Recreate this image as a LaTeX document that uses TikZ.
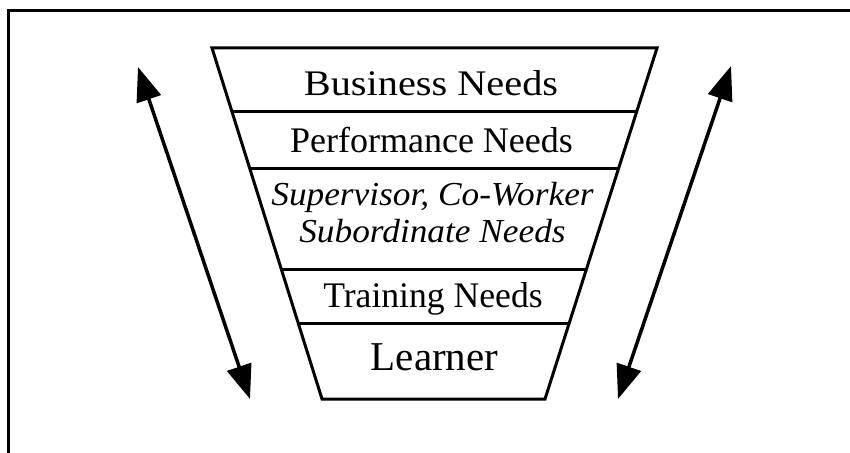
\documentclass[tikz,border=0pt]{standalone}
\usepackage{graphicx}
\usepackage{fontspec}
\setmainfont{Liberation Serif}
\usetikzlibrary{arrows.meta}
\begin{document}
\begin{tikzpicture}[x=1pt,y=-1pt,
  line/.style={line width=3pt},
  label/.style={anchor=base, inner sep=0pt},
  big/.style={label, font=\fontsize{41}{44}\selectfont},
  mid/.style={label, font=\fontsize{36}{39}\selectfont},
  ita/.style={label, font=\fontsize{35.3}{39}\selectfont\itshape},
  dbl/.style={line width=3.5pt,{Triangle[length=34pt,width=25pt]}-{Triangle[length=34pt,width=25pt]}}]
\useasboundingbox (0,0) rectangle (850,452);
% frame
\draw[line] (8,453) -- (8,11) -- (851,11);
% funnel
\coordinate (tl) at (212,48);
\coordinate (tr) at (657,48);
\coordinate (bl) at (322,399);
\coordinate (br) at (545,399);
\draw[line, line join=miter] (tl) -- (tr) -- (br) -- (bl) -- cycle;
\draw[line] (231.7,111) -- (636.9,111);
\draw[line] (249.6,168) -- (618.7,168);
\draw[line] (281.3,269) -- (586.5,269);
\draw[line] (298.2,323) -- (569.3,323);
% texts
\node[mid] (bus) at (431,95) {\scalebox{1.12}[1]{Business Needs}};
\node[mid] (perf) at (431.5,152) {Performance Needs};
\node[ita] (sup1) at (432.5,205) {\scalebox{1}[0.95]{Supervisor, Co-Worker}};
\node[ita] (sup2) at (432.5,242) {\scalebox{1}[0.95]{Subordinate Needs}};
\node[mid] (train) at (433,307) {\scalebox{0.99}[1]{Training Needs}};
\node[big] (learn) at (434.5,370) {Learner};
% arrows
\coordinate (la) at (138,67);
\coordinate (lb) at (250,399);
\coordinate (ra) at (731,66);
\coordinate (rb) at (618,399);
\draw[dbl] (la) -- (lb);
\draw[dbl] (ra) -- (rb);
\end{tikzpicture}
\end{document}
